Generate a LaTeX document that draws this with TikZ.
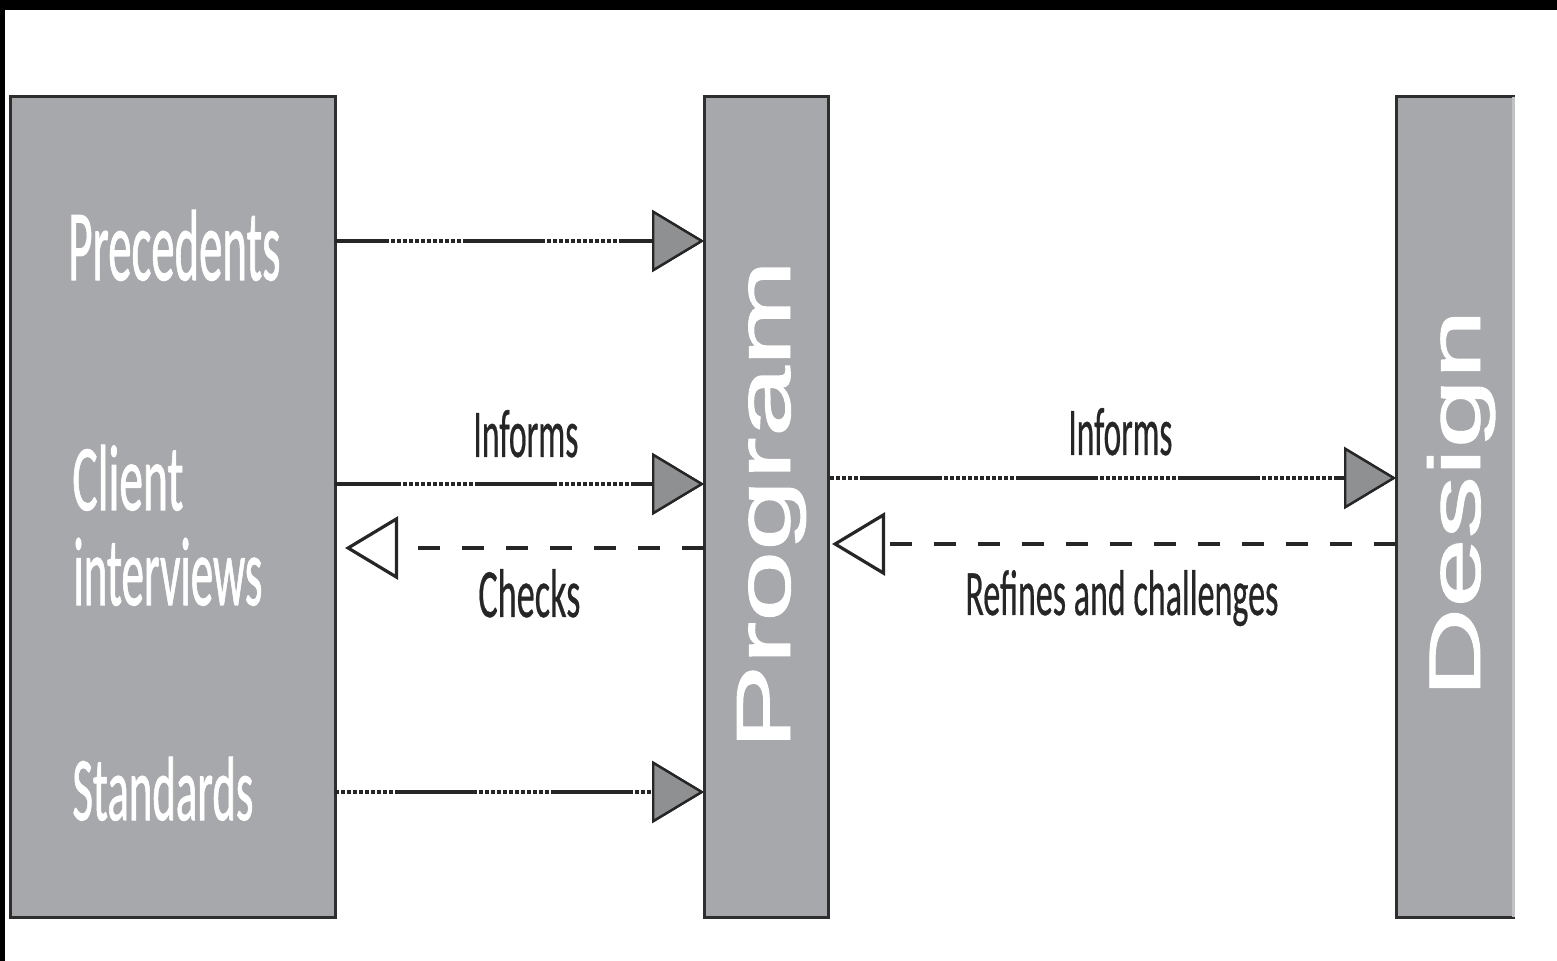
\documentclass[tikz,border=0pt]{standalone}
\usepackage{fontspec}
\usepackage{graphicx}
\usetikzlibrary{arrows.meta,calc}
\newfontfamily\gillish[FakeBold=1.2]{Carlito}
\newfontfamily\edgefont[FakeBold=0.6]{Carlito}
\newfontfamily\geoish[FakeBold=1.2]{Liberation Sans}
\definecolor{boxgray}{HTML}{A7A8AB}
\definecolor{tipgray}{HTML}{8F9092}
\definecolor{ink}{HTML}{262626}
\definecolor{edgeline}{HTML}{2E2E2E}
\newcommand{\fitto}[3]{\resizebox{#1}{#2}{#3}}
\begin{document}
\begin{tikzpicture}[x=0.5pt,y=-0.5pt,
  panel/.style={draw=edgeline, line width=1.5pt, fill=boxgray, rectangle, inner sep=0pt, outer sep=0pt},
  boxlabel/.style={text=white, font=\gillish, inner sep=0pt, anchor=base west},
  vlabel/.style={text=white, font=\geoish, inner sep=0pt, anchor=base west, rotate=90},
  edgelabel/.style={text=ink, font=\edgefont, inner sep=0pt, anchor=base west},
  flow/.style={draw=ink, line width=2.2pt, dash pattern=on 39pt off 40pt,
    -{Triangle[length=26pt,width=31pt,fill=tipgray,line width=1.2pt]},
    preaction={draw=ink, line width=2.2pt, dash pattern=on 2pt off 1pt}},
  back/.style={draw=ink, line width=2.2pt, dash pattern=on 11pt off 11pt,
    -{Triangle[open,length=26.5pt,width=31.5pt,line width=1.6pt]}},
]
\path[use as bounding box, fill=white] (0,0) rectangle (1557,961);
\fill[black] (0,0) rectangle (1557,10);
\fill[black] (0,0) rectangle (5,961);

\node[panel, minimum width=162.5pt, minimum height=410pt] (src) at (172.5,507) {};
\node[panel, minimum width=62pt, minimum height=410pt] (prog) at (766,507) {};
\node[panel, minimum width=58.5pt, minimum height=410pt] (des) at (1454.5,507) {};
\draw[boxgray!70!white, line width=1.5pt] (des.north east) -- (des.south east);

\node[boxlabel] (prec) at (68,280) {\fitto{106pt}{35pt}{Precedents}};
\node[boxlabel] (client) at (72,510) {\fitto{55.5pt}{32.5pt}{Client}};
\node[boxlabel] (interv) at (73,605) {\fitto{94.5pt}{33.5pt}{interviews}};
\node[boxlabel] (stand) at (72,820) {\fitto{90.5pt}{31.5pt}{Standards}};

\node[vlabel] (progt) at (790,750) {\fitto{245pt}{26.5pt}{Program}};
\node[vlabel] (dest) at (1480,698) {\fitto{194pt}{26.5pt}{Design}};

\node[edgelabel] (inf1) at (473,457) {\fitto{52.5pt}{23.5pt}{Informs}};
\node[edgelabel] (chk) at (478,617) {\fitto{51pt}{24pt}{Checks}};
\node[edgelabel] (inf2) at (1068,455) {\fitto{52pt}{23.5pt}{Informs}};
\node[edgelabel] (ref) at (965,615) {\fitto{156.5pt}{22.5pt}{Refines and challenges}};

\coordinate (yP) at (0,241);
\coordinate (yI) at (0,484);
\coordinate (yC) at (0,548);
\coordinate (yS) at (0,792);
\coordinate (yJ) at (0,478);
\coordinate (yR) at (0,544);

\draw[flow, dash phase=14pt] (src.east |- yP) -- (prog.west |- yP);
\draw[flow, dash phase=8pt] (src.east |- yI) -- (prog.west |- yI);
\draw[flow, dash phase=48pt] (src.east |- yS) -- (prog.west |- yS);
\draw[flow, dash phase=62pt] (prog.east |- yJ) -- (des.west |- yJ);
\draw[back] (prog.west |- yC) -- ($(src.east |- yC)+(10,0)$);
\draw[back] (des.west |- yR) -- ($(prog.east |- yR)+(4,0)$);
\end{tikzpicture}
\end{document}
